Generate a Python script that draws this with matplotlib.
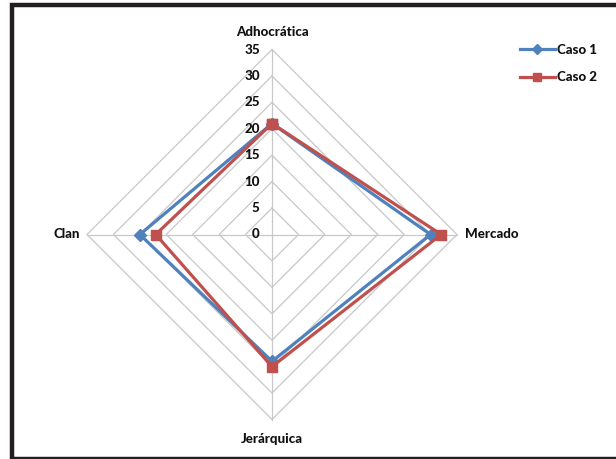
import matplotlib
matplotlib.use("Agg")
import matplotlib.pyplot as plt
from matplotlib.patches import Rectangle
import numpy as np

plt.rcParams['font.family'] = ['Lato', 'DejaVu Sans']

categories = ["Adhocrática", "Mercado", "Jerárquica", "Clan"]
caso1 = [21, 30, 24, 25]
caso2 = [21, 32, 25, 22]
levels = [0, 5, 10, 15, 20, 25, 30, 35]
series = [("Caso 1", caso1, "#4F81BD", "D", 6),
          ("Caso 2", caso2, "#C0504D", "s", 7.5)]

# unit vectors for top, right, bottom, left
dirs = np.array([[0, 1], [1, 0], [0, -1], [-1, 0]], dtype=float)

def to_xy(vals):
    pts = dirs * np.array(vals, dtype=float)[:, None]
    return np.vstack([pts, pts[:1]])

W, H = 616, 459
cx, cy = 272, 234.5
scale = 185 / 35.0
fs = 9.6

fig = plt.figure(figsize=(W / 100, H / 100), dpi=100)
ax = fig.add_axes([0, 0, 1, 1])
ax.set_xlim(-cx / scale, (W - cx) / scale)
ax.set_ylim(-(H - cy) / scale, cy / scale)
ax.axis("off")

# grid diamonds and spokes
rmax = levels[-1]
for lv in levels[1:]:
    g = to_xy([lv] * 4)
    ax.plot(g[:, 0], g[:, 1], color="#C8C8C8", lw=0.9, zorder=1)
for d in dirs:
    ax.plot([0, d[0] * rmax], [0, d[1] * rmax], color="#C8C8C8", lw=0.9, zorder=1)

for lv in levels:
    ax.text(-2.3, lv, str(lv), ha="right", va="center", fontsize=fs,
            fontweight="black", color="#111111")

kw = dict(fontsize=fs, fontweight="black", color="#111111")
ax.text(0, rmax + 3.4, categories[0], ha="center", va="center", **kw)
ax.text(rmax + 1.5, 0, categories[1], ha="left", va="center", **kw)
ax.text(0, -rmax - 3.6, categories[2], ha="center", va="center", **kw)
ax.text(-rmax - 1.4, 0, categories[3], ha="right", va="center", **kw)

for name, vals, col, mk, ms in series:
    p = to_xy(vals)
    ax.plot(p[:, 0], p[:, 1], color=col, lw=2.3, marker=mk, ms=ms,
            markeredgecolor=col, zorder=3, label=name)

leg = ax.legend(loc="upper left", bbox_to_anchor=(508 / W, 1 - 32 / H),
                frameon=False, handlelength=2.6, handletextpad=0.2,
                labelspacing=1.15, markerscale=0.85,
                prop={"weight": "black", "size": fs})
for t in leg.get_texts():
    t.set_color("#111111")

# outer frame
fig.patches.append(Rectangle((12 / W, 0), 1, 1 - 5 / H, transform=fig.transFigure,
                             fill=False, edgecolor="#231f20", lw=3.2))

fig.savefig("out.png", dpi=100)
